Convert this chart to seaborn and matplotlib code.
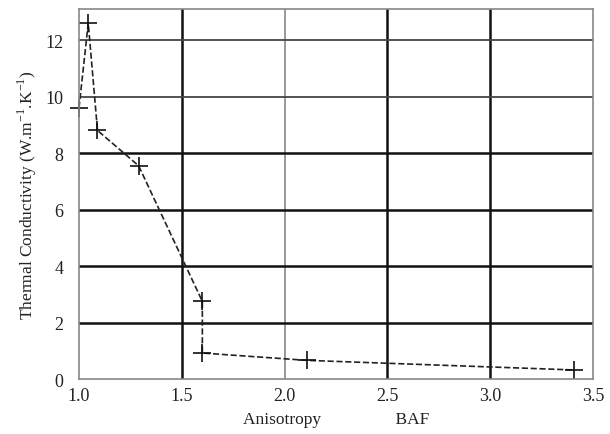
import matplotlib
matplotlib.use("Agg")
import matplotlib.pyplot as plt
import seaborn as sns
import pandas as pd

anisotropy = [1.00, 1.045, 1.09, 1.29, 1.60, 1.60, 2.11, 3.41]
conductivity = [9.6, 12.6, 8.8, 7.55, 2.75, 0.92, 0.66, 0.32]
xticks = [1.0, 1.5, 2.0, 2.5, 3.0, 3.5]
yticks = [0, 2, 4, 6, 8, 10, 12]

sns.set_style("white")
plt.rcParams['font.family'] = ['Liberation Serif', 'DejaVu Serif']

df = pd.DataFrame({"x": anisotropy, "y": conductivity})

fig = plt.figure(figsize=(6.1, 4.35), dpi=100)
ax = fig.add_axes([0.1295, 0.1264, 0.8425, 0.8506])

# grid lines
thick_x = {1.5, 2.5, 3.0}
for xv in xticks[1:-1]:
    if xv in thick_x:
        ax.axvline(xv, color="#111111", lw=1.8, zorder=0)
    else:
        ax.axvline(xv, color="#888888", lw=1.2, zorder=0)
for yv in yticks[1:]:
    if yv >= 10:
        ax.axhline(yv, color="#444444", lw=1.3, zorder=0)
    else:
        ax.axhline(yv, color="#111111", lw=1.8, zorder=0)

sns.lineplot(data=df, x="x", y="y", sort=False, estimator=None, ax=ax,
             color="#222222", linestyle="--", lw=1.2, marker="+",
             markersize=13, markeredgewidth=1.2, markeredgecolor="#111111",
             dashes=(3.5, 2.5), clip_on=False)

ax.set_xlim(1.0, 3.5)
ax.set_ylim(0, 13.1)
ax.set_xticks(xticks)
ax.set_xticklabels([f"{v:.1f}" for v in xticks], fontfamily="Liberation Serif")
ax.set_yticks(yticks)
ax.set_yticklabels([str(v) for v in yticks], fontfamily="Liberation Serif")
ax.tick_params(axis="both", labelsize=13, length=0, colors="#222222")
ax.tick_params(axis="x", pad=6)
ax.tick_params(axis="y", pad=11)
for s in ax.spines.values():
    s.set_color("#888888")
    s.set_linewidth(1.2)

ax.set_xlabel("Anisotropy                 BAF", fontsize=12.5, labelpad=5, color="#222222")
ax.set_ylabel("Thermal Conductivity (W.m$^{\\mathregular{-1}}$.K$^{\\mathregular{-1}}$)",
              fontsize=12.5, labelpad=5, color="#222222")

fig.savefig("out.png", dpi=100, facecolor="white")
